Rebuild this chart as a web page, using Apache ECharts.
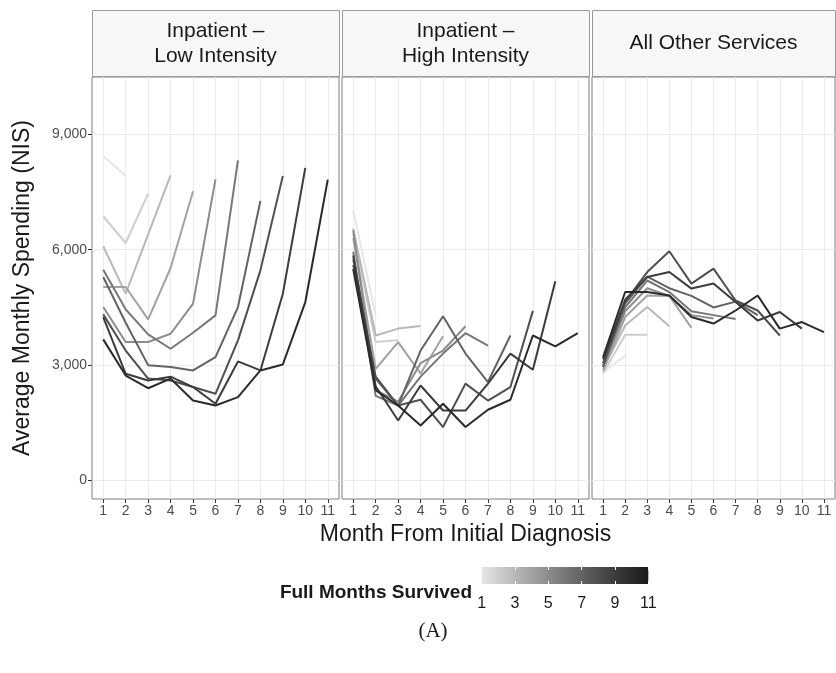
<!DOCTYPE html>
<html><head><meta charset="utf-8">
<script src="https://cdn.jsdelivr.net/npm/echarts@6/dist/echarts.min.js"></script>
<style>html,body{margin:0;padding:0;background:#fff}#c{width:836px;height:673px}</style>
</head><body><div id="c"></div><script>
// ---------------- data ----------------
const panelTitles = ['Inpatient –\nLow Intensity', 'Inpatient –\nHigh Intensity', 'All Other Services'];
const months = [1,2,3,4,5,6,7,8,9,10,11];
const yTicks = [0,3000,6000,9000];
const legendTicks = [1,3,5,7,9,11];
const survivedGroups = [1,2,3,4,5,6,7,8,9,10];

// values by group (full months survived), month 1 onwards
const lowIntensity = [
  [8430, 7920],
  [6870, 6175, 7460],
  [6090, 4860, 6400, 7930],
  [5030, 5030, 4190, 5525, 7520],
  [4510, 3600, 3600, 3816, 4597, 7830],
  [5480, 4450, 3800, 3426, 3842, 4293, 8320],
  [5290, 4100, 3000, 2950, 2862, 3209, 4510, 7270],
  [4320, 3380, 2650, 2600, 2430, 2255, 3643, 5464, 7920],
  [4250, 2775, 2600, 2700, 2430, 1995, 3096, 2862, 4857, 8127],
  [3670, 2730, 2400, 2650, 2082, 1952, 2168, 2862, 3018, 4640, 7823]
];
const highIntensity = [
  [7030, 4290],
  [6400, 3600, 3650],
  [6550, 3770, 3950, 4020],
  [6300, 2900, 3600, 2780, 3750],
  [6500, 2350, 2050, 3050, 3380, 4010],
  [5950, 2200, 1950, 2700, 3300, 3830, 3510],
  [5750, 2650, 1950, 3380, 4270, 3300, 2560, 3770],
  [5600, 2700, 1950, 2100, 1390, 2520, 2080, 2430, 4410],
  [5850, 2450, 1560, 2470, 1820, 1820, 2520, 3300, 2880, 5180],
  [5500, 2350, 1950, 1430, 1995, 1390, 1840, 2100, 3770, 3490, 3830]
];
const otherServices = [
  [2820, 3240],
  [2780, 3790, 3790],
  [2900, 4030, 4510, 4010],
  [2850, 4250, 4810, 4800, 3970],
  [2950, 4400, 5000, 4800, 4300, 4210],
  [3000, 4500, 5200, 4900, 4400, 4300, 4200],
  [2950, 4600, 5300, 5000, 4800, 4500, 4650, 4300],
  [3050, 4650, 5420, 5960, 5120, 5510, 4680, 4420, 3770],
  [3150, 4700, 5290, 5420, 4990, 5120, 4640, 4160, 4380, 3950],
  [3200, 4900, 4900, 4810, 4250, 4080, 4420, 4810, 3950, 4120, 3860]
];
const panelData = [lowIntensity, highIntensity, otherServices];

// ---------------- style ----------------
const FONT = 'Liberation Sans';
const gL = [92, 342, 592], gW = [247, 247, 243], gTop = 77, gH = 422;

function lin(c){ c/=255; return c<=0.04045? c/12.92 : Math.pow((c+0.055)/1.055,2.4); }
function toL(g){ const Y=lin(g); return Y>0.008856? 116*Math.cbrt(Y)-16 : 903.3*Y; }
function fromL(L){ let fy=(L+16)/116; let Y=L>8? fy*fy*fy : L/903.3;
  let c = Y<=0.0031308? 12.92*Y : 1.055*Math.pow(Y,1/2.4)-0.055; return Math.round(Math.max(0,Math.min(1,c))*255); }
const Llow = toL(0.9*255), Lhigh = toL(0.1*255);
function greyFor(v){ const t=(v-1)/10; const g=fromL(Llow+(Lhigh-Llow)*t); return 'rgb('+g+','+g+','+g+')'; }

const grids = [], xAxes = [], yAxes = [], series = [], graphics = [];
panelTitles.forEach((t,i)=>{
  grids.push({left:gL[i], top:gTop, width:gW[i], height:gH, show:true, borderColor:'#7f7f7f', borderWidth:1, backgroundColor:'#fff'});
  xAxes.push({gridIndex:i, type:'value', min:0.5, max:11.5, position:'bottom',
    name: i===1 ? 'Month From Initial Diagnosis' : '', nameLocation:'middle', nameGap:24,
    nameTextStyle:{fontFamily:FONT, fontSize:23, color:'#1a1a1a'},
    axisLine:{show:false, onZero:false},
    axisTick:{show:true, customValues:months, length:4, lineStyle:{color:'#333', width:1}},
    axisLabel:{customValues:months, fontFamily:FONT, fontSize:14, color:'#4d4d4d', margin:5},
    splitLine:{show:true, lineStyle:{color:'#ebebeb', width:1}}});
  yAxes.push({gridIndex:i, type:'value', min:-480, max:10490, position:'left',
    name: i===0 ? 'Average Monthly Spending (NIS)' : '', nameLocation:'middle', nameGap:58, nameRotate:90,
    nameTextStyle:{fontFamily:FONT, fontSize:23, color:'#1a1a1a'},
    axisLine:{show:false, onZero:false},
    axisTick:{show:i===0, customValues:yTicks, length:4, lineStyle:{color:'#333', width:1}},
    axisLabel:{show:i===0, customValues:yTicks, fontFamily:FONT, fontSize:14, color:'#4d4d4d', margin:5,
      formatter:v=>v.toLocaleString('en-US')},
    splitLine:{show:true, lineStyle:{color:'#ebebeb', width:1}}});
  panelData[i].forEach((vals,gi)=>{
    series.push({type:'line', xAxisIndex:i, yAxisIndex:i, symbol:'none', silent:true,
      data: vals.map((v,k)=>[months[k], v]),
      lineStyle:{color:greyFor(survivedGroups[gi]), width:2},
      itemStyle:{color:greyFor(survivedGroups[gi])}, z: 2+gi});
  });
  graphics.push({type:'rect', shape:{x:gL[i]+0.5, y:10.5, width:gW[i], height:66},
    style:{fill:'#f7f7f7', stroke:'#9a9a9a', lineWidth:1}});
  graphics.push({type:'text', x:gL[i]+gW[i]/2, y:43.5,
    style:{text:t, font:'21px "'+FONT+'"', fill:'#1a1a1a', textAlign:'center', textVerticalAlign:'middle', lineHeight:25}});
});

// colourbar legend
const stops = [];
for (let v=1; v<=11; v+=0.5) stops.push({offset:(v-1)/10, color:greyFor(v)});
grids.push({left:481.6, top:567, width:166.7, height:17, show:true, borderWidth:0,
  backgroundColor:{type:'linear', x:0, y:0, x2:1, y2:0, colorStops:stops}});
xAxes.push({gridIndex:3, type:'value', min:1, max:11, position:'bottom',
  axisLine:{show:false, onZero:false}, splitLine:{show:false},
  axisTick:{show:true, inside:true, customValues:legendTicks, length:3, lineStyle:{color:'#fff', width:1}},
  axisLabel:{customValues:legendTicks, fontFamily:FONT, fontSize:16, color:'#1a1a1a', margin:12}});
xAxes.push({gridIndex:3, type:'value', min:1, max:11, position:'top',
  axisLine:{show:false, onZero:false}, splitLine:{show:false}, axisLabel:{show:false},
  axisTick:{show:true, inside:true, customValues:legendTicks, length:3, lineStyle:{color:'#fff', width:1}}});
yAxes.push({gridIndex:3, type:'value', show:false, min:0, max:1});

graphics.push({type:'text', x:472, y:593,
  style:{text:'Full Months Survived', font:'bold 19px "'+FONT+'"', fill:'#1a1a1a', textAlign:'right', textVerticalAlign:'middle'}});
graphics.push({type:'text', x:433, y:631,
  style:{text:'(A)', font:'21px "Liberation Serif"', fill:'#1a1a1a', textAlign:'center', textVerticalAlign:'middle'}});

const chart = echarts.init(document.getElementById('c'), null, {renderer:'canvas'});
chart.setOption({animation:false, backgroundColor:'#fff', grid:grids, xAxis:xAxes, yAxis:yAxes, series:series, graphic:graphics});
</script></body></html>
